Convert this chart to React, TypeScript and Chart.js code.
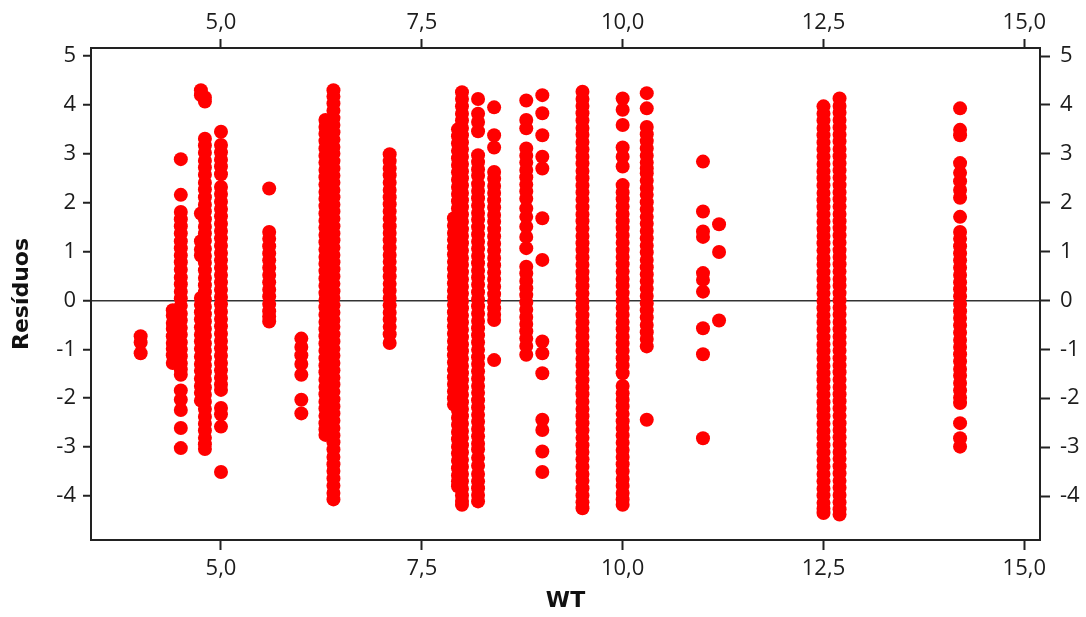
import React, { useEffect, useRef } from "react";
import { Chart, registerables } from "chart.js";

Chart.register(...registerables);

// WT levels (x) and the residuals observed at each level (y)
const wtLevels = [4.0, 4.4, 4.5, 4.75, 4.8, 5.0, 5.6, 6.0, 6.3, 6.4, 7.1, 7.9, 7.95, 8.0, 8.2, 8.4, 8.8, 9.0, 9.5, 10.0, 10.3, 11.0, 11.2, 12.5, 12.7, 14.2];

const res_4_0 = [-0.73, -0.86, -1.08];
const res_4_4 = [-0.2, -0.31, -0.46, -0.58, -0.73, -0.87, -0.99, -1.12, -1.28];
const res_4_5 = [2.89, 2.16, 1.81, 1.66, 1.52, 1.37, 1.21, 1.07, 0.92, 0.78, 0.63, 0.47, 0.33, 0.18, 0.04, -0.11, -0.27, -0.41, -0.56, -0.7, -0.86, -1.0, -1.14, -1.29, -1.41, -1.52, -1.84, -2.03, -2.24, -2.61, -3.02];
const res_4_75 = [4.3, 4.2, 1.78, 1.21, 1.04, 0.92, 0.05, -0.09, -0.24, -0.39, -0.55, -0.7, -0.84, -0.99, -1.15, -1.3, -1.44, -1.6, -1.75, -1.89, -2.05];
const res_4_8 = [4.15, 4.07, 3.31, 3.17, 3.02, 2.86, 2.72, 2.57, 2.41, 2.27, 2.11, 1.96, 1.82, 1.66, 1.51, 1.37, 1.22, 1.06, 0.91, 0.77, 0.62, 0.46, 0.31, 0.17, 0.02, -0.13, -0.28, -0.43, -0.58, -0.72, -0.88, -1.03, -1.18, -1.33, -1.47, -1.62, -1.78, -1.93, -2.07, -2.22, -2.38, -2.52, -2.66, -2.81, -2.94, -3.04];
const res_5_0 = [3.45, 3.18, 3.03, 2.88, 2.74, 2.58, 2.32, 2.18, 2.02, 1.87, 1.72, 1.57, 1.42, 1.27, 1.12, 0.97, 0.82, 0.67, 0.52, 0.37, 0.22, 0.07, -0.08, -0.23, -0.38, -0.53, -0.68, -0.83, -0.98, -1.13, -1.28, -1.43, -1.58, -1.72, -1.83, -2.2, -2.33, -2.58, -3.51];
const res_5_6 = [2.29, 1.4, 1.26, 1.11, 0.96, 0.82, 0.67, 0.52, 0.37, 0.22, 0.08, -0.07, -0.22, -0.33, -0.43];
const res_6_0 = [-0.78, -0.95, -1.12, -1.3, -1.52, -2.03, -2.31];
const res_6_3 = [3.69, 3.55, 3.41, 3.26, 3.11, 2.96, 2.82, 2.67, 2.52, 2.37, 2.22, 2.08, 1.93, 1.78, 1.63, 1.49, 1.34, 1.19, 1.04, 0.89, 0.75, 0.6, 0.45, 0.3, 0.15, 0.01, -0.14, -0.29, -0.44, -0.59, -0.73, -0.88, -1.03, -1.18, -1.33, -1.47, -1.62, -1.77, -1.92, -2.07, -2.21, -2.36, -2.51, -2.64, -2.75];
const res_6_4 = [4.3, 4.17, 4.03, 3.88, 3.73, 3.59, 3.44, 3.29, 3.14, 3.0, 2.85, 2.7, 2.55, 2.41, 2.26, 2.11, 1.96, 1.82, 1.67, 1.52, 1.37, 1.23, 1.08, 0.93, 0.78, 0.64, 0.49, 0.34, 0.19, 0.05, -0.1, -0.25, -0.4, -0.54, -0.69, -0.84, -0.99, -1.13, -1.28, -1.43, -1.58, -1.72, -1.87, -2.02, -2.17, -2.31, -2.46, -2.61, -2.76, -2.9, -3.05, -3.2, -3.35, -3.49, -3.64, -3.79, -3.94, -4.07];
const res_7_1 = [2.99, 2.85, 2.7, 2.56, 2.41, 2.26, 2.11, 1.97, 1.82, 1.67, 1.52, 1.38, 1.23, 1.08, 0.93, 0.79, 0.64, 0.49, 0.34, 0.2, 0.05, -0.1, -0.25, -0.39, -0.54, -0.69, -0.87];
const res_7_9 = [1.68, 1.53, 1.38, 1.24, 1.09, 0.94, 0.79, 0.65, 0.5, 0.35, 0.2, 0.06, -0.09, -0.24, -0.39, -0.53, -0.68, -0.83, -0.98, -1.12, -1.27, -1.42, -1.57, -1.71, -1.86, -2.0, -2.13];
const res_7_95 = [3.5, 3.36, 3.21, 3.06, 2.91, 2.77, 2.62, 2.47, 2.32, 2.18, 2.03, 1.88, 1.73, 1.59, 1.44, 1.29, 1.14, 1.0, 0.85, 0.7, 0.55, 0.41, 0.26, 0.11, -0.04, -0.18, -0.33, -0.48, -0.63, -0.77, -0.92, -1.07, -1.22, -1.36, -1.51, -1.66, -1.81, -1.95, -2.1, -2.25, -2.4, -2.54, -2.69, -2.84, -2.99, -3.13, -3.28, -3.43, -3.58, -3.7, -3.8];
const res_8_0 = [4.26, 4.12, 3.97, 3.82, 3.68, 3.53, 3.38, 3.23, 3.09, 2.94, 2.79, 2.64, 2.5, 2.35, 2.2, 2.05, 1.91, 1.76, 1.61, 1.46, 1.32, 1.17, 1.02, 0.87, 0.73, 0.58, 0.43, 0.28, 0.14, -0.01, -0.16, -0.31, -0.45, -0.6, -0.75, -0.9, -1.04, -1.19, -1.34, -1.49, -1.63, -1.78, -1.93, -2.08, -2.22, -2.37, -2.52, -2.67, -2.81, -2.96, -3.11, -3.26, -3.4, -3.55, -3.7, -3.85, -3.99, -4.1, -4.18];
const res_8_2 = [4.12, 3.82, 3.65, 3.46, 2.97, 2.83, 2.68, 2.55, 2.38, 2.24, 2.09, 1.94, 1.79, 1.65, 1.5, 1.35, 1.2, 1.06, 0.91, 0.76, 0.61, 0.47, 0.32, 0.17, 0.02, -0.12, -0.27, -0.42, -0.57, -0.71, -0.86, -1.01, -1.16, -1.3, -1.45, -1.6, -1.75, -1.89, -2.04, -2.19, -2.34, -2.48, -2.63, -2.78, -2.93, -3.05, -3.22, -3.38, -3.55, -3.7, -3.84, -3.98, -4.11];
const res_8_4 = [3.95, 3.38, 3.13, 2.63, 2.49, 2.34, 2.2, 2.05, 1.9, 1.75, 1.61, 1.46, 1.31, 1.16, 1.02, 0.87, 0.72, 0.57, 0.43, 0.28, 0.13, -0.02, -0.16, -0.29, -0.4, -1.22];
const res_8_8 = [4.09, 3.69, 3.52, 3.11, 2.96, 2.82, 2.67, 2.52, 2.37, 2.23, 2.08, 1.88, 1.71, 1.51, 1.3, 1.07, 0.69, 0.55, 0.4, 0.25, 0.11, -0.04, -0.19, -0.34, -0.48, -0.63, -0.78, -0.93, -1.11];
const res_9_0 = [4.2, 3.83, 3.38, 2.94, 2.7, 1.68, 0.83, -0.84, -1.08, -1.49, -2.44, -2.65, -3.09, -3.51];
const res_9_5 = [4.27, 4.12, 3.98, 3.83, 3.68, 3.53, 3.39, 3.24, 3.09, 2.94, 2.8, 2.65, 2.5, 2.35, 2.21, 2.06, 1.91, 1.76, 1.62, 1.47, 1.32, 1.17, 1.03, 0.88, 0.73, 0.58, 0.44, 0.29, 0.14, -0.01, -0.15, -0.3, -0.45, -0.6, -0.74, -0.89, -1.04, -1.19, -1.33, -1.48, -1.63, -1.78, -1.92, -2.07, -2.22, -2.37, -2.51, -2.66, -2.81, -2.96, -3.1, -3.25, -3.4, -3.55, -3.69, -3.84, -3.99, -4.13, -4.25];
const res_10_0 = [4.13, 3.9, 3.59, 3.13, 2.94, 2.74, 2.36, 2.21, 2.07, 1.92, 1.77, 1.62, 1.48, 1.33, 1.18, 1.03, 0.89, 0.74, 0.59, 0.44, 0.3, 0.15, 0.0, -0.15, -0.29, -0.44, -0.59, -0.74, -0.88, -1.03, -1.18, -1.33, -1.49, -1.75, -1.9, -2.03, -2.17, -2.32, -2.47, -2.61, -2.76, -2.91, -3.06, -3.2, -3.35, -3.5, -3.65, -3.79, -3.94, -4.07, -4.18];
const res_10_3 = [4.24, 3.93, 3.55, 3.4, 3.26, 3.11, 2.96, 2.82, 2.7, 2.6, 2.45, 2.3, 2.16, 2.01, 1.86, 1.71, 1.57, 1.42, 1.27, 1.12, 0.98, 0.83, 0.68, 0.53, 0.39, 0.24, 0.09, -0.06, -0.2, -0.35, -0.5, -0.65, -0.79, -0.94, -2.44];
const res_11_0 = [2.84, 1.82, 1.41, 1.3, 0.56, 0.42, 0.18, -0.57, -1.1, -2.82];
const res_11_2 = [1.56, 0.99, -0.41];
const res_12_5 = [3.97, 3.82, 3.68, 3.53, 3.38, 3.23, 3.09, 2.94, 2.79, 2.64, 2.5, 2.35, 2.2, 2.05, 1.91, 1.76, 1.61, 1.46, 1.32, 1.17, 1.02, 0.87, 0.73, 0.58, 0.43, 0.28, 0.14, -0.01, -0.16, -0.31, -0.45, -0.6, -0.75, -0.9, -1.04, -1.19, -1.34, -1.49, -1.63, -1.78, -1.93, -2.08, -2.22, -2.37, -2.52, -2.67, -2.81, -2.96, -3.11, -3.26, -3.4, -3.55, -3.7, -3.85, -3.99, -4.14, -4.26, -4.35];
const res_12_7 = [4.13, 3.98, 3.84, 3.69, 3.54, 3.39, 3.25, 3.1, 2.95, 2.8, 2.66, 2.51, 2.36, 2.21, 2.07, 1.92, 1.77, 1.62, 1.48, 1.33, 1.18, 1.03, 0.89, 0.74, 0.59, 0.44, 0.3, 0.15, 0.0, -0.15, -0.29, -0.44, -0.59, -0.74, -0.88, -1.03, -1.18, -1.33, -1.47, -1.62, -1.77, -1.92, -2.06, -2.21, -2.36, -2.51, -2.65, -2.8, -2.95, -3.1, -3.24, -3.39, -3.54, -3.69, -3.83, -3.98, -4.13, -4.27, -4.38];
const res_14_2 = [3.93, 3.49, 3.38, 2.81, 2.61, 2.44, 2.26, 2.1, 1.71, 1.4, 1.26, 1.11, 0.96, 0.82, 0.67, 0.52, 0.37, 0.23, 0.08, -0.07, -0.22, -0.36, -0.51, -0.66, -0.81, -0.95, -1.1, -1.25, -1.4, -1.54, -1.69, -1.84, -1.99, -2.1, -2.51, -2.82, -2.99];

const residualGroups = [res_4_0, res_4_4, res_4_5, res_4_75, res_4_8, res_5_0, res_5_6, res_6_0, res_6_3, res_6_4, res_7_1, res_7_9, res_7_95, res_8_0, res_8_2, res_8_4, res_8_8, res_9_0, res_9_5, res_10_0, res_10_3, res_11_0, res_11_2, res_12_5, res_12_7, res_14_2];

const xTickValues = [5, 7.5, 10, 12.5, 15];
const yTickValues = [-4, -3, -2, -1, 0, 1, 2, 3, 4, 5];
const X_MIN = 3.382;
const X_MAX = 15.195;
const Y_MIN = -4.9;
const Y_MAX = 5.164;

export default function App() {
  const ref = useRef<HTMLCanvasElement>(null);

  useEffect(() => {
    if (!ref.current) return;
    const points = wtLevels.flatMap((x, i) => residualGroups[i].map((y) => ({ x, y })));

    const tickFont = { family: "'Open Sans', sans-serif", size: 22 };
    const titleFont = { family: "'DejaVu Sans', sans-serif", size: 22, weight: "bold" as const };
    const ink = "#1c1c1c";
    const fmtX = (v: any) => Number(v).toFixed(1).replace(".", ",");
    const fmtY = (v: any) => String(v);
    const setTicks = (vals: number[]) => (scale: any) => {
      scale.ticks = vals.map((v) => ({ value: v }));
    };
    const border = { display: true, color: "#222", width: 2 };

    const chart = new Chart(ref.current, {
      type: "scatter",
      data: {
        datasets: [
          {
            data: points,
            backgroundColor: "#ff0000",
            borderColor: "#ff0000",
            borderWidth: 0,
            pointRadius: 7,
            pointHoverRadius: 7,
          },
        ],
      },
      options: {
        responsive: false,
        animation: false,
        devicePixelRatio: 1,
        layout: { padding: 0 },
        plugins: { legend: { display: false }, tooltip: { enabled: false } },
        scales: {
          x: {
            type: "linear",
            position: "bottom",
            min: X_MIN,
            max: X_MAX,
            afterBuildTicks: setTicks(xTickValues),
            afterFit: (s: any) => { s.height = 77; },
            grid: { drawOnChartArea: false, tickLength: 10, tickColor: "#222", tickWidth: 2 },
            border,
            ticks: { font: tickFont, color: ink, padding: 6, maxRotation: 0, autoSkip: false, callback: fmtX },
            title: { display: true, text: "WT", font: titleFont, color: "#111", padding: { top: 0, bottom: 3 } },
          },
          x2: {
            type: "linear",
            axis: "x",
            position: "top",
            min: X_MIN,
            max: X_MAX,
            afterBuildTicks: setTicks(xTickValues),
            afterFit: (s: any) => { s.height = 48; },
            grid: { drawOnChartArea: false, tickLength: 9, tickColor: "#222", tickWidth: 2 },
            border,
            ticks: { font: tickFont, color: ink, padding: 3, maxRotation: 0, autoSkip: false, callback: fmtX },
          },
          y: {
            type: "linear",
            position: "left",
            min: Y_MIN,
            max: Y_MAX,
            afterBuildTicks: setTicks(yTickValues),
            afterFit: (s: any) => { s.width = 91; },
            grid: {
              drawOnChartArea: true,
              color: (ctx: any) => (ctx.tick && ctx.tick.value === 0 ? "#333" : "rgba(0,0,0,0)"),
              lineWidth: 1.5,
              tickLength: 8,
              tickColor: "#222",
              tickWidth: 2,
            },
            border,
            ticks: { font: tickFont, color: ink, padding: 7, autoSkip: false, callback: fmtY },
            title: { display: true, text: "Resíduos", font: titleFont, color: "#111", padding: { top: 9, bottom: 0 } },
          },
          y2: {
            type: "linear",
            axis: "y",
            position: "right",
            min: Y_MIN,
            max: Y_MAX,
            afterBuildTicks: setTicks(yTickValues),
            afterFit: (s: any) => { s.width = 46; },
            grid: { drawOnChartArea: false, tickLength: 10, tickColor: "#222", tickWidth: 2 },
            border,
            ticks: { font: tickFont, color: ink, padding: 10, autoSkip: false, callback: fmtY },
          },
        },
      },
    });
    return () => chart.destroy();
  }, []);

  return (
    <div style={{ position: "absolute", left: 0, top: 0, width: 1086, height: 617, background: "#fff" }}>
      <canvas ref={ref} width={1086} height={617} style={{ display: "block" }} />
    </div>
  );
}
